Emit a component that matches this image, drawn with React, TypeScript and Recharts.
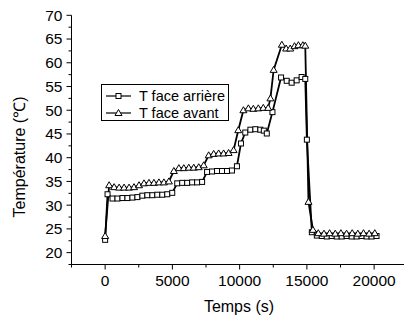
import React from "react";
import { LineChart, Line, XAxis, YAxis } from "recharts";

// T face arrière (squares)
const arriereTime = [
  0, 180, 550, 920, 1290, 1660, 2030, 2400, 2770, 3140, 3510, 3880, 4250, 4620,
  4990, 5360, 5730, 6100, 6470, 6840, 7210, 7580, 7950, 8320, 8690, 9060, 9430,
  9800, 10100, 10420, 10800, 11170, 11540, 11800, 12020, 12440, 13080, 13500,
  13870, 14240, 14610, 14880, 15000, 15370, 15740, 16110, 16480, 16850, 17220,
  17590, 17960, 18330, 18700, 19070, 19440, 19810, 20180,
];
const arriereTemp = [
  22.7, 32.3, 31.4, 31.4, 31.5, 31.5, 31.6, 31.7, 32.0, 32.1, 32.1, 32.2, 32.2, 32.3,
  32.6, 34.6, 34.7, 34.7, 34.8, 34.8, 34.9, 37.0, 37.1, 37.2, 37.2, 37.2, 37.3,
  38.2, 43.0, 45.3, 45.9, 46.0, 45.9, 45.7, 45.1, 49.6, 56.9, 56.2,
  55.8, 56.3, 57.0, 56.6, 43.8, 24.3, 23.6, 23.5, 23.4, 23.5, 23.4,
  23.4, 23.5, 23.4, 23.4, 23.5, 23.4, 23.4, 23.5,
];

// T face avant (triangles)
const avantTime = [
  0, 300, 670, 1040, 1410, 1780, 2150, 2520, 2890, 3260, 3630, 4000, 4370, 4740,
  5110, 5480, 5850, 6220, 6590, 6960, 7330, 7700, 8070, 8440, 8810, 9180, 9550,
  9900, 10280, 10650, 11020, 11390, 11760, 12120, 12290, 12530, 13140, 13460,
  13760, 14080, 14370, 14700, 14880, 15120, 15450, 15850, 16270, 16690, 17110,
  17530, 17950, 18370, 18790, 19210, 19630, 20050,
];
const avantTemp = [
  23.5, 34.2, 33.8, 33.7, 33.7, 33.7, 33.8, 34.2, 34.6, 34.7, 34.7, 34.8, 34.8, 35.0,
  37.2, 37.8, 37.8, 37.9, 37.9, 38.0, 38.4, 40.5, 40.8, 40.9, 40.9, 41.0, 41.6,
  45.8, 50.0, 50.4, 50.3, 50.4, 50.5, 50.5, 52.5, 58.5, 63.8, 63.0,
  63.0, 63.5, 63.7, 63.7, 63.6, 30.7, 24.8, 24.1, 24.0, 24.1, 24.0,
  24.1, 24.0, 24.1, 24.0, 24.1, 24.0, 24.1,
];

const seriesNames = ["T face arrière", "T face avant"];

const xTicks = [-2500, 0, 2500, 5000, 7500, 10000, 12500, 15000, 17500, 20000, 22500];
const xLabels = [0, 5000, 10000, 15000, 20000];
const yTicks = [
  17.5, 20, 22.5, 25, 27.5, 30, 32.5, 35, 37.5, 40, 42.5, 45, 47.5, 50, 52.5, 55,
  57.5, 60, 62.5, 65, 67.5, 70,
];
const yLabels = [20, 25, 30, 35, 40, 45, 50, 55, 60, 65, 70];

const arriere = arriereTime.map((t, i) => ({ t, v: arriereTemp[i] }));
const avant = avantTime.map((t, i) => ({ t, v: avantTemp[i] }));

const FONT = "'Liberation Sans', Arial, sans-serif";

function SquareDot(p: any) {
  const { cx, cy } = p;
  if (cx == null || cy == null) return <g />;
  return (
    <rect x={cx - 2.5} y={cy - 2.5} width={5} height={5} fill="#fff" stroke="#000" strokeWidth={1} />
  );
}

function TriDot(p: any) {
  const { cx, cy } = p;
  if (cx == null || cy == null) return <g />;
  return (
    <path
      d={`M${cx},${cy - 3.5}L${cx + 3.5},${cy + 2.5}L${cx - 3.5},${cy + 2.5}Z`}
      fill="#fff"
      stroke="#000"
      strokeWidth={1}
    />
  );
}

function XTick({ x, y, payload }: any) {
  const major = xLabels.includes(payload.value);
  return (
    <g>
      <line x1={x} x2={x} y1={y} y2={y + (major ? 5 : 3)} stroke="#000" />
      {major && (
        <text x={x} y={y + 21.5} textAnchor="middle" fontSize={15.5} fontFamily={FONT} fill="#000">
          {payload.value}
        </text>
      )}
    </g>
  );
}

function YTick({ x, y, payload }: any) {
  const major = yLabels.includes(payload.value);
  return (
    <g>
      <line x1={x} x2={x - (major ? 5 : 3)} y1={y} y2={y} stroke="#000" />
      {major && (
        <text x={x - 9} y={y + 5.4} textAnchor="end" fontSize={15.5} fontFamily={FONT} fill="#000">
          {payload.value}
        </text>
      )}
    </g>
  );
}

function LegendBox() {
  return (
    <div
      style={{
        position: "absolute",
        left: 101,
        top: 84,
        width: 126,
        height: 35,
        border: "1px solid #000",
        background: "#fff",
        fontFamily: FONT,
        fontSize: 14.5,
        color: "#000",
      }}
    >
      {seriesNames.map((name, i) => (
        <div key={name} style={{ position: "absolute", left: 3, top: i === 0 ? 2 : 19.5, height: 17, display: "flex", alignItems: "center" }}>
          <svg width={27} height={10} style={{ display: "block" }}>
            <line x1={1} x2={26} y1={5} y2={5} stroke="#000" strokeWidth={1.2} />
            {i === 0 ? (
              <rect x={11} y={2.5} width={5} height={5} fill="#fff" stroke="#000" />
            ) : (
              <path d="M13.5,1.5L17,7.5L10,7.5Z" fill="#fff" stroke="#000" />
            )}
          </svg>
          <span style={{ marginLeft: 7, whiteSpace: "nowrap" }}>{name}</span>
        </div>
      ))}
    </div>
  );
}

export default function App() {
  return (
    <div style={{ position: "absolute", left: 0, top: 0, width: 404, height: 322, overflow: "hidden", background: "#fff" }}>
      <LineChart
        width={410}
        height={322}
        margin={{ top: 15.3, right: 2.25, bottom: 17.5, left: 11.5 }}
      >
        <XAxis
          type="number"
          dataKey="t"
          domain={[-2500, 22500]}
          ticks={xTicks}
          interval={0}
          height={40}
          tickSize={0}
          tickMargin={0}
          tickLine={false}
          axisLine={{ stroke: "#000" }}
          tick={<XTick />}
          allowDataOverflow
        />
        <YAxis
          type="number"
          dataKey="v"
          domain={[17.5, 70]}
          ticks={yTicks}
          interval={0}
          width={60}
          tickSize={0}
          tickMargin={0}
          tickLine={false}
          axisLine={{ stroke: "#000" }}
          tick={<YTick />}
          allowDataOverflow
        />
        <Line
          data={arriere}
          dataKey="v"
          name={seriesNames[0]}
          stroke="#000"
          strokeWidth={1.8}
          dot={<SquareDot />}
          isAnimationActive={false}
        />
        <Line
          data={avant}
          dataKey="v"
          name={seriesNames[1]}
          stroke="#000"
          strokeWidth={1.8}
          dot={<TriDot />}
          isAnimationActive={false}
        />
        <text x={239} y={312} textAnchor="middle" fontSize={16} fontFamily={FONT} fill="#000">
          Temps (s)
        </text>
        <text
          x={25}
          y={157}
          transform="rotate(-90 25 157)"
          textAnchor="middle"
          fontSize={16}
          fontFamily={FONT}
          fill="#000"
        >
          Température (℃)
        </text>
      </LineChart>
      <LegendBox />
    </div>
  );
}
